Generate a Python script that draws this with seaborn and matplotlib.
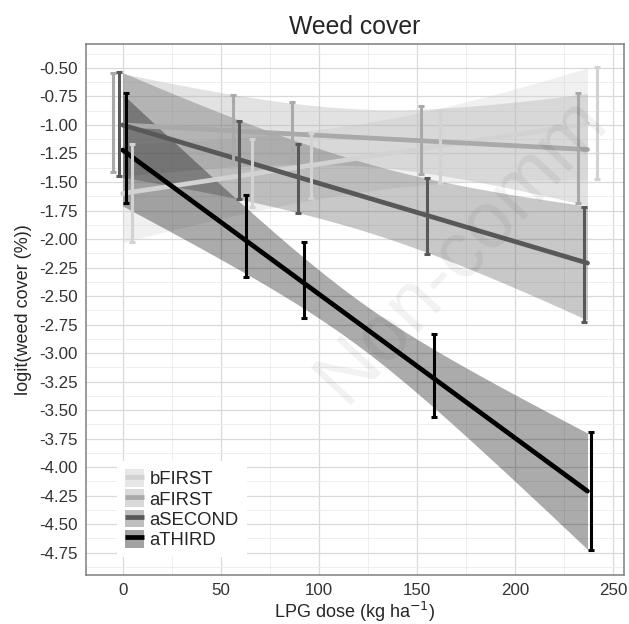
import numpy as np
import pandas as pd
import matplotlib
matplotlib.use("Agg")
import matplotlib.pyplot as plt
from matplotlib.patches import Rectangle
from matplotlib.lines import Line2D
from matplotlib.legend_handler import HandlerTuple
import seaborn as sns

# ---------------- data ----------------
groups = ["bFIRST", "aFIRST", "aSECOND", "aTHIRD"]
colors = ["#d2d2d2", "#a9a9a9", "#585858", "#000000"]
doses = [0, 61, 91, 157, 237]
dodge = [5.0, -4.9, -1.65, 1.7]

means = {
    "bFIRST":  [-1.60, -1.42, -1.355, -1.19, -0.98],
    "aFIRST":  [-0.977, -1.035, -1.06, -1.133, -1.206],
    "aSECOND": [-0.992, -1.306, -1.467, -1.80, -2.222],
    "aTHIRD":  [-1.204, -1.977, -2.36, -3.198, -4.21],
}
ses = {
    "bFIRST":  [0.43, 0.30, 0.285, 0.315, 0.49],
    "aFIRST":  [0.433, 0.30, 0.26, 0.30, 0.482],
    "aSECOND": [0.457, 0.339, 0.304, 0.332, 0.504],
    "aTHIRD":  [0.48, 0.36, 0.33, 0.361, 0.52],
}
fit_intercept = [-1.60, -1.00, -1.00, -1.22]
fit_slope = [0.00257, -0.00091, -0.00511, -0.01262]
band_start = [0.43, 0.45, 0.46, 0.49]
band_mid = [0.30, 0.25, 0.30, 0.20]
band_end = [0.49, 0.49, 0.50, 0.51]

yticks = [-0.50, -0.75, -1.00, -1.25, -1.50, -1.75, -2.00, -2.25, -2.50,
          -2.75, -3.00, -3.25, -3.50, -3.75, -4.00, -4.25, -4.50, -4.75]
xticks = [0, 50, 100, 150, 200, 250]

# ---------------- style ----------------
sns.set_style("white")
plt.rcParams["font.family"] = ["Liberation Sans", "DejaVu Sans"]
plt.rcParams["axes.unicode_minus"] = False

fig = plt.figure(figsize=(6.29, 6.24), dpi=100)
ax = fig.add_axes([0.1367, 0.0785, 0.8553, 0.851])

# grid
ax.set_xticks(xticks)
ax.set_xticks([-25 + 50 * i + 50 for i in range(-1, 5)], minor=True)
ax.set_yticks(yticks)
ax.set_yticks([v - 0.125 for v in yticks] + [-0.375], minor=True)
ax.grid(True, which="major", color="#d9d9d9", lw=0.9, zorder=0)
ax.grid(True, which="minor", color="#ebebeb", lw=0.6, zorder=0)
ax.set_axisbelow(True)

# fitted lines + confidence ribbons
xs = np.linspace(min(doses), max(doses), 200)
xc = (min(doses) + max(doses)) / 2
half = (max(doses) - min(doses)) / 2
rows = []
for i, g in enumerate(groups):
    fit = fit_intercept[i] + fit_slope[i] * xs
    hs, hm, he = band_start[i], band_mid[i], band_end[i]
    d = (xs - xc) / half
    hw = np.where(d < 0,
                  np.sqrt(hm ** 2 + (hs ** 2 - hm ** 2) * d ** 2),
                  np.sqrt(hm ** 2 + (he ** 2 - hm ** 2) * d ** 2))
    ax.fill_between(xs, fit - hw, fit + hw, color=colors[i], alpha=0.33,
                    lw=0, zorder=2)
    rows.append(pd.DataFrame({"dose": xs, "fit": fit, "group": g}))
fit_df = pd.concat(rows, ignore_index=True)

sns.lineplot(data=fit_df, x="dose", y="fit", hue="group", hue_order=groups,
             palette=dict(zip(groups, colors)), linewidth=3.4, legend=False,
             ax=ax, zorder=3)

# error bars
for i, g in enumerate(groups):
    xp = [d + dodge[i] for d in doses]
    ax.errorbar(xp, means[g], yerr=ses[g], fmt="none", ecolor=colors[i],
                elinewidth=2.2, capsize=2.2, capthick=2.2, zorder=4)

# watermark
ax.text(0.481, 0.32, "Non-comm", transform=ax.transAxes, rotation=47,
        rotation_mode="anchor", ha="left", va="baseline", fontsize=57,
        color="black", alpha=0.055, clip_on=False, zorder=5)

# axes
ax.set_xlim(-18.7, 255.6)
ax.set_ylim(-4.946, -0.29)
ax.set_yticklabels([f"{v:.2f}" for v in yticks])
ax.tick_params(axis="both", which="major", length=4, width=1, color="#555555",
               labelsize=12.2, labelcolor="#333333", pad=2)
ax.tick_params(which="minor", length=0)
for s in ax.spines.values():
    s.set_color("#7f7f7f")
    s.set_linewidth(1.1)

ax.set_title("Weed cover", fontsize=17.8, pad=7)
ax.set_xlabel("LPG dose (kg ha$^{-1}$)", fontsize=13, labelpad=1)
ax.set_ylabel("logit(weed cover (%))", fontsize=13, labelpad=5)

# legend
handles = []
for i, g in enumerate(groups):
    bg = Rectangle((0, 0), 1, 1, facecolor="#f2f2f2", lw=0)
    patch = Rectangle((0, 0), 1, 1, facecolor=colors[i], alpha=0.33, lw=0)
    line = Line2D([0], [0], color=colors[i], lw=3.4, solid_capstyle="butt")
    handles.append((bg, patch, line))
leg = ax.legend(handles, groups, loc="upper left", bbox_to_anchor=(0.058, 0.215),
                handler_map={tuple: HandlerTuple(ndivide=1, pad=0)},
                fontsize=13.3, frameon=True, facecolor="white", edgecolor="none",
                framealpha=1, fancybox=False, handlelength=1.0,
                handleheight=1.12, labelspacing=0.05, handletextpad=0.3,
                borderpad=0.45, borderaxespad=0)
leg.set_zorder(6)

fig.savefig("out.png", dpi=100)
